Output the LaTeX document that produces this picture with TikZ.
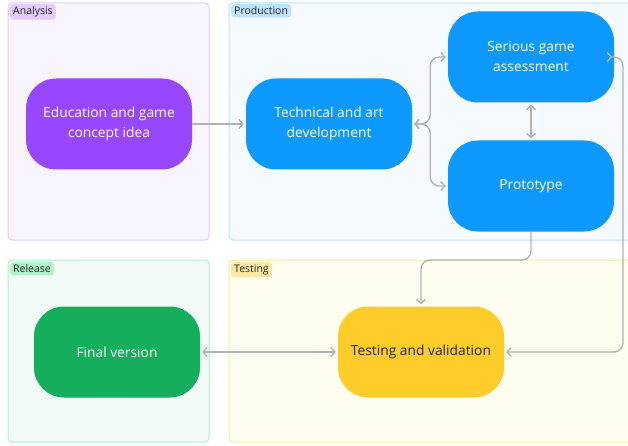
\documentclass[tikz,border=0pt]{standalone}
\usepackage{fontspec}
\setmainfont{Open Sans}
\usepackage{tikz}
\usetikzlibrary{arrows.meta, positioning}

\definecolor{anaFill}{HTML}{F9F5FF}
\definecolor{anaLine}{HTML}{E4CCFF}
\definecolor{proFill}{HTML}{F5FAFF}
\definecolor{proLine}{HTML}{BDE3FF}
\definecolor{relFill}{HTML}{F2FBF6}
\definecolor{relLine}{HTML}{AFF4C6}
\definecolor{tesFill}{HTML}{FFFCF0}
\definecolor{tesLine}{HTML}{FFE8A3}
\definecolor{purpleStep}{HTML}{9747FF}
\definecolor{blueStep}{HTML}{0D99FF}
\definecolor{greenStep}{HTML}{14AE5C}
\definecolor{yellowStep}{HTML}{FFCD29}
\definecolor{linkGray}{HTML}{B3B3B3}

\begin{document}
\begin{tikzpicture}[
		x=1pt,
		y=-1pt,
		font=\fontsize{13.8}{20}\selectfont,
		phase/.style={draw, line width=1pt, rounded corners=4pt},
		tag/.style={anchor=north west, rounded corners=3pt, inner xsep=3pt, inner ysep=2.5pt, font=\fontsize{10.5}{11}\selectfont, text=black!85},
		stepbox/.style={rounded corners=30pt, minimum width=166pt, minimum height=91pt, align=center, text=white},
		link/.style={draw=linkGray, line width=1.4pt, {Straight Barb[length=4pt,width=9pt]}-{Straight Barb[length=4pt,width=9pt]}, shorten <=2pt, shorten >=2pt},
		fwd/.style={draw=linkGray, line width=1.4pt, -{Straight Barb[length=4pt,width=9pt]}, shorten >=2pt}
		]
		\clip (0,0) rectangle (628,446);
		
		% Phases
		\draw[phase, fill=anaFill, draw=anaLine] (8,3) rectangle (209,240);
		\draw[phase, fill=proFill, draw=proLine] (229,3) rectangle (640,240);
		\draw[phase, fill=relFill, draw=relLine] (8,260) rectangle (209,442);
		\draw[phase, fill=tesFill, draw=tesLine] (229,260) rectangle (640,442);
		\node[tag, fill=anaLine] (analysis) at (10,4) {Analysis};
		\node[tag, fill=proLine] (production) at (231,4) {Production};
		\node[tag, fill=relLine] (release) at (10,262) {Release};
		\node[tag, fill=tesLine] (testing) at (231,262) {Testing};
		
		% Steps
		\node[stepbox, fill=purpleStep] (idea) at (109,124) {Education and game\\concept idea};
		\node[stepbox, fill=blueStep] (tech) at (329,124) {Technical and art\\development};
		\node[stepbox, fill=blueStep] (assess) at (531,57) {Serious game\\assessment};
		\node[stepbox, fill=blueStep] (proto) at (531,186) {Prototype};
		\node[stepbox, fill=greenStep] (final) at (117,352) {Final version};
		\node[stepbox, fill=yellowStep, text=black!85] (valid) at (421,352) {Testing and validation};
		
		% Links
		\draw[fwd] (idea) -- (tech);
		\draw[link, rounded corners=9pt] (tech.east) -- ++(18,0) |- (assess.west);
		\draw[link, rounded corners=9pt] (tech.east) -- ++(18,0) |- (proto.west);
		\draw[link] (assess) -- (proto);
		\coordinate (drop) at (531,260);
		\draw[fwd, rounded corners=9pt] (proto.south) -- (drop) -| (valid.north);
		\coordinate (loop) at (623,352);
		\draw[link, rounded corners=9pt] (assess.east) -| (loop) -- (valid.east);
		\draw[link] (final) -- (valid);
	\end{tikzpicture}
\end{document}
